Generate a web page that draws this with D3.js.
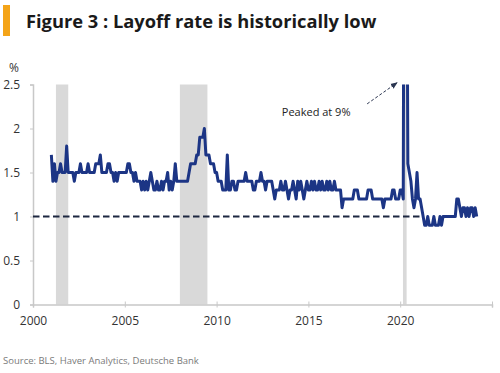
<!DOCTYPE html>
<html>
<head>
<meta charset="utf-8">
<script src="https://cdn.jsdelivr.net/npm/d3@7"></script>
<style>
  body { margin: 0; background: #fff; }
  text { font-family: "Open Sans", "Noto Sans", sans-serif; }
</style>
</head>
<body>
<svg id="chart" width="500" height="373"></svg>
<script>
const title = "Figure 3 : Layoff rate is historically low";
const source = "Source: BLS, Haver Analytics, Deutsche Bank";
const unitLabel = "%";
const xTicks = [2000, 2005, 2010, 2015, 2020, 2025];
const yTicks = [0, 0.5, 1, 1.5, 2, 2.5];
const recessions = [[2001.25, 2001.92], [2008.0, 2009.5], [2020.15, 2020.35]];
const refLevel = 1;
const refEnd = 2021.25;

// layoff rate (%), monthly, first value = Dec 2000
const startYear = 2000, startMonth = 11;
const layoffRate = [
  1.7,
  1.4, 1.6, 1.4, 1.5, 1.5, 1.6, 1.5, 1.5, 1.5, 1.8, 1.5, 1.5, // 2001
  1.5, 1.5, 1.4, 1.5, 1.5, 1.5, 1.6, 1.5, 1.5, 1.5, 1.5, 1.6, // 2002
  1.5, 1.5, 1.5, 1.5, 1.6, 1.6, 1.6, 1.7, 1.5, 1.5, 1.5, 1.5, // 2003
  1.6, 1.6, 1.5, 1.5, 1.4, 1.5, 1.4, 1.5, 1.5, 1.5, 1.5, 1.5, // 2004
  1.5, 1.6, 1.6, 1.5, 1.5, 1.4, 1.5, 1.4, 1.4, 1.4, 1.3, 1.4, // 2005
  1.3, 1.4, 1.3, 1.4, 1.5, 1.4, 1.3, 1.3, 1.4, 1.3, 1.3, 1.4, // 2006
  1.3, 1.4, 1.4, 1.5, 1.3, 1.4, 1.3, 1.4, 1.6, 1.4, 1.4, 1.4, // 2007
  1.4, 1.4, 1.4, 1.4, 1.4, 1.5, 1.6, 1.6, 1.6, 1.6, 1.7, 1.7, // 2008
  1.9, 1.9, 1.9, 2.0, 1.7, 1.7, 1.7, 1.6, 1.6, 1.6, 1.5, 1.5, // 2009
  1.4, 1.4, 1.4, 1.3, 1.3, 1.3, 1.7, 1.3, 1.3, 1.4, 1.4, 1.3, // 2010
  1.3, 1.4, 1.4, 1.4, 1.4, 1.4, 1.5, 1.4, 1.4, 1.4, 1.4, 1.3, // 2011
  1.3, 1.4, 1.4, 1.4, 1.5, 1.4, 1.4, 1.3, 1.4, 1.4, 1.4, 1.4, // 2012
  1.3, 1.2, 1.3, 1.3, 1.3, 1.4, 1.3, 1.3, 1.4, 1.3, 1.2, 1.3, // 2013
  1.3, 1.4, 1.3, 1.2, 1.4, 1.3, 1.4, 1.3, 1.2, 1.3, 1.4, 1.3, // 2014
  1.3, 1.4, 1.3, 1.4, 1.3, 1.3, 1.4, 1.3, 1.4, 1.3, 1.3, 1.4, // 2015
  1.3, 1.4, 1.3, 1.3, 1.4, 1.3, 1.3, 1.3, 1.3, 1.1, 1.2, 1.2, // 2016
  1.2, 1.2, 1.2, 1.2, 1.2, 1.3, 1.3, 1.3, 1.2, 1.2, 1.2, 1.2, // 2017
  1.2, 1.2, 1.3, 1.3, 1.3, 1.2, 1.2, 1.2, 1.2, 1.2, 1.2, 1.2, // 2018
  1.1, 1.2, 1.2, 1.2, 1.2, 1.2, 1.3, 1.3, 1.2, 1.2, 1.2, 1.3, // 2019
  1.3, 1.2, 9.0, 6.0, 1.6, 1.5, 1.4, 1.2, 1.1, 1.2, 1.5, 1.2, // 2020
  1.2, 1.1, 1.0, 0.9, 0.9, 1.0, 0.9, 0.9, 0.9, 1.0, 0.9, 0.9, // 2021
  0.9, 1.0, 0.9, 1.0, 1.0, 1.0, 1.0, 1.0, 1.0, 1.0, 1.0, 1.0, // 2022
  1.2, 1.2, 1.1, 1.0, 1.1, 1.1, 1.0, 1.1, 1.0, 1.1, 1.1, 1.0, // 2023
  1.1, 1.0                                                    // 2024
];

// annotation, in data units
const note = { text: "Peaked at 9%", tx: 2013.55, ty: 2.14, x1: 2018.2, y1: 2.28, x2: 2019.83, y2: 2.52 };

const svg = d3.select("#chart");

const x = d3.scaleLinear().domain([2000, 2025]).range([33, 492]);
const y = d3.scaleLinear().domain([0, 2.5]).range([304.5, 84.5]);

// points sit at the end of each month
const series = layoffRate.map((v, i) => ({ t: startYear + (startMonth + i + 1) / 12, v: v }));

// header
svg.append("rect")
    .attr("x", 3).attr("y", 5)
    .attr("width", 7).attr("height", 31)
    .attr("fill", "#f4a418");

svg.append("text")
    .attr("x", 26).attr("y", 28)
    .attr("font-size", 18.3)
    .attr("font-weight", 700)
    .attr("fill", "#1a1a1a")
    .text(title);

// recession bars
svg.append("g")
  .selectAll("rect")
  .data(recessions)
  .join("rect")
    .attr("x", d => x(d[0]))
    .attr("width", d => x(d[1]) - x(d[0]))
    .attr("y", y(2.5))
    .attr("height", y(0) - y(2.5))
    .attr("fill", "#d9d9d9");

// axes
const xAxis = svg.append("g")
    .attr("transform", `translate(0,${y(0)})`)
    .call(d3.axisBottom(x).tickValues(xTicks).tickSize(3).tickPadding(9)
      .tickFormat(d => d === 2025 ? "" : d));
xAxis.selectAll(".tick line").attr("y1", -3).attr("y2", 3);

const yAxis = svg.append("g")
    .attr("transform", `translate(${x(2000)},0)`)
    .call(d3.axisLeft(y).tickValues(yTicks).tickSize(3).tickPadding(10)
      .tickFormat(d3.format("~g")));

[xAxis, yAxis].forEach(g => {
  g.select(".domain").attr("stroke", "#c8c8c8").attr("stroke-width", 1.5);
  g.selectAll(".tick line").attr("stroke", "#c8c8c8");
  g.selectAll(".tick text")
    .attr("font-size", 12)
    .attr("font-family", "'Open Sans', sans-serif")
    .attr("fill", "#333");
});

svg.append("text")
    .attr("x", 14).attr("y", 72)
    .attr("text-anchor", "middle")
    .attr("font-size", 12)
    .attr("fill", "#333")
    .text(unitLabel);

// reference line at 1%
svg.append("line")
    .attr("x1", x(2000)).attr("x2", x(refEnd))
    .attr("y1", y(refLevel)).attr("y2", y(refLevel))
    .attr("stroke", "#1d2740")
    .attr("stroke-width", 2.2)
    .attr("stroke-dasharray", "6.5,3.5");

// series
svg.append("clipPath").attr("id", "plot")
  .append("rect")
    .attr("x", x(2000)).attr("y", y(2.5))
    .attr("width", x(2025) - x(2000)).attr("height", y(0) - y(2.5) + 10);

const line = d3.line().x(d => x(d.t)).y(d => y(d.v));

svg.append("path")
    .datum(series)
    .attr("clip-path", "url(#plot)")
    .attr("fill", "none")
    .attr("stroke", "#1c3585")
    .attr("stroke-width", 3)
    .attr("stroke-linejoin", "round")
    .attr("d", line);

// annotation
svg.append("defs").append("marker")
    .attr("id", "arrow")
    .attr("viewBox", "0 0 10 10")
    .attr("refX", 9).attr("refY", 5)
    .attr("markerWidth", 7).attr("markerHeight", 7)
    .attr("orient", "auto")
  .append("path")
    .attr("d", "M0,1 L10,5 L0,9 z")
    .attr("fill", "#2b3550");

svg.append("line")
    .attr("x1", x(note.x1)).attr("y1", y(note.y1))
    .attr("x2", x(note.x2)).attr("y2", y(note.y2))
    .attr("stroke", "#2b3550")
    .attr("stroke-width", 1)
    .attr("stroke-dasharray", "3,2")
    .attr("marker-end", "url(#arrow)");

svg.append("text")
    .attr("x", x(note.tx)).attr("y", y(note.ty))
    .attr("font-size", 11)
    .attr("fill", "#222")
    .text(note.text);

// source
svg.append("text")
    .attr("x", 3).attr("y", 364)
    .attr("font-size", 9.5)
    .attr("fill", "#7a7a7a")
    .text(source);
</script>
</body>
</html>
